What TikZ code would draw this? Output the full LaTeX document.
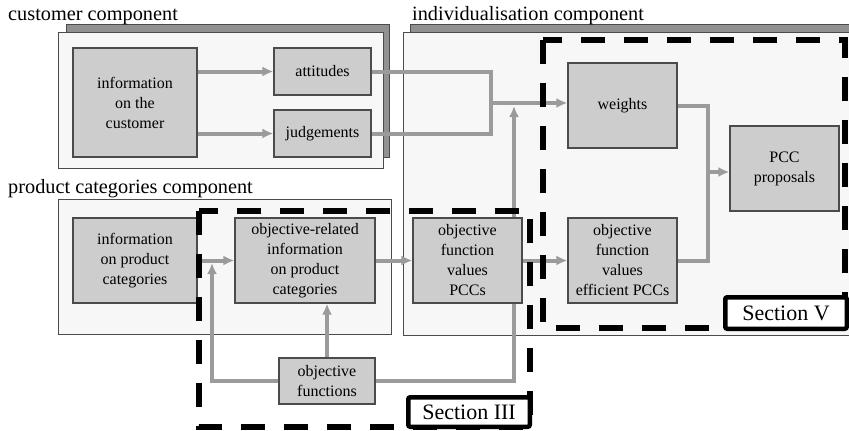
\documentclass[tikz,border=0pt]{standalone}
\usepackage{fontspec}
\setmainfont{Liberation Serif}
\usetikzlibrary{arrows.meta}
\definecolor{boxgray}{RGB}{205,205,205}
\definecolor{compgray}{RGB}{247,247,247}
\definecolor{shadegray}{RGB}{145,145,145}
\definecolor{linegray}{RGB}{155,155,155}
\definecolor{edgegray}{RGB}{75,75,75}

\begin{document}
\begin{tikzpicture}[x=1pt,y=-1pt,
   blk/.style={draw=edgegray,line width=1.2pt,fill=boxgray,align=center,
      inner sep=0pt,font=\fontsize{16}{20}\selectfont},
   comp/.style={draw=edgegray,line width=1pt,fill=compgray},
   shade/.style={draw=edgegray,line width=1pt,fill=shadegray},
   flow/.style={draw=linegray,line width=4pt,-{Latex[length=11pt,width=10pt]}},
   link/.style={draw=linegray,line width=4pt},
   sect/.style={draw=black,line width=6pt,dash pattern=on 24pt off 19pt},
   tag/.style={draw=black,line width=4.5pt,fill=white,rounded corners=2pt,
      minimum width=121.5pt,inner sep=0pt,font=\fontsize{22}{22}\selectfont},
   head/.style={anchor=base west,inner sep=0pt,font=\fontsize{20.3}{20.3}\selectfont}]
   \useasboundingbox (0,0) rectangle (849,431);
   \clip (0,0) rectangle (849,431);

   \draw[shade] ( 66,24) rectangle (389,157);
   \draw[comp]  ( 58,32) rectangle (383,168);
   \draw[comp]  ( 58,199) rectangle (391,334);
   \draw[shade] (410,24) rectangle (870,60);
   \draw[comp]  (403,32) rectangle (870,335);

   \node[head] (custhead)  at (  8, 20) {customer component};
   \node[head] (prodhead)  at (  8,193) {product categories component};
   \node[head] (indivhead) at (412, 20) {individualisation component};

   \node[blk,minimum width=124pt,minimum height=109pt] (infocust) at (135,102.5) {information\\on the\\customer};
   \node[blk,minimum width=97pt,minimum height=47pt]   (att)      at (322.5,71.5) {attitudes};
   \node[blk,minimum width=97pt,minimum height=47pt]   (judg)     at (322.5,133.5) {judgements};
   \node[blk,minimum width=124pt,minimum height=85pt]  (infoprod) at (135,260.5) {information\\on product\\categories};
   \node[blk,minimum width=140pt,minimum height=85pt]  (objrel)   at (305,260.5) {objective-related\\information\\on product\\categories};
   \node[blk,minimum width=96pt,minimum height=46pt]   (objfun)   at (327,381) {objective\\functions};
   \node[blk,minimum width=109pt,minimum height=85pt]  (ofv)      at (467.5,260.5) {objective\\function\\values\\PCCs};
   \node[blk,minimum width=109pt,minimum height=85pt]  (ofveff)   at (622.5,260.5) {objective\\function\\values\\efficient PCCs};
   \node[blk,minimum width=109pt,minimum height=85pt]  (weights)  at (622.5,105.5) {weights};
   \node[blk,minimum width=109pt,minimum height=85pt]  (pcc)      at (784.5,168.5) {PCC\\proposals};

   \draw[flow] (infocust.east |- att) -- (att);
   \draw[flow] (infocust.east |- judg) -- (judg);
   \coordinate (jw) at (491,103);
   \draw[link] (att) -| (jw);
   \draw[link] (judg) -| (jw);
   \draw[flow] (jw) -- (jw -| weights.west);
   \coordinate (jp) at (708,172);
   \draw[link] (weights) -| (jp);
   \draw[link] (ofveff) -| (jp);
   \draw[flow] (jp) -- (jp -| pcc.west);

   \draw[flow] (infoprod) -- (objrel);
   \draw[flow] (objrel) -- (ofv);
   \draw[flow] (ofv) -- (ofveff);
   \draw[flow] (objfun.north) -- (objfun.north |- objrel.south);
   \coordinate (jo) at (212,263);
   \draw[flow] (objfun) -| (jo);
   \coordinate (jv) at (514,106);
   \draw[link] (objfun) -| (jv |- ofv.south);
   \draw[flow] (jv |- ofv.north) -- (jv);

   \draw[sect] (199,211) rectangle (530,427);
   \draw[sect] (543,40) rectangle (845,328);
   \node[tag,minimum height=29.5pt] (sec3) at (469,412) {Section III};
   \node[tag,minimum height=31.5pt] (sec5) at (786,313) {Section V};
\end{tikzpicture}
\end{document}
